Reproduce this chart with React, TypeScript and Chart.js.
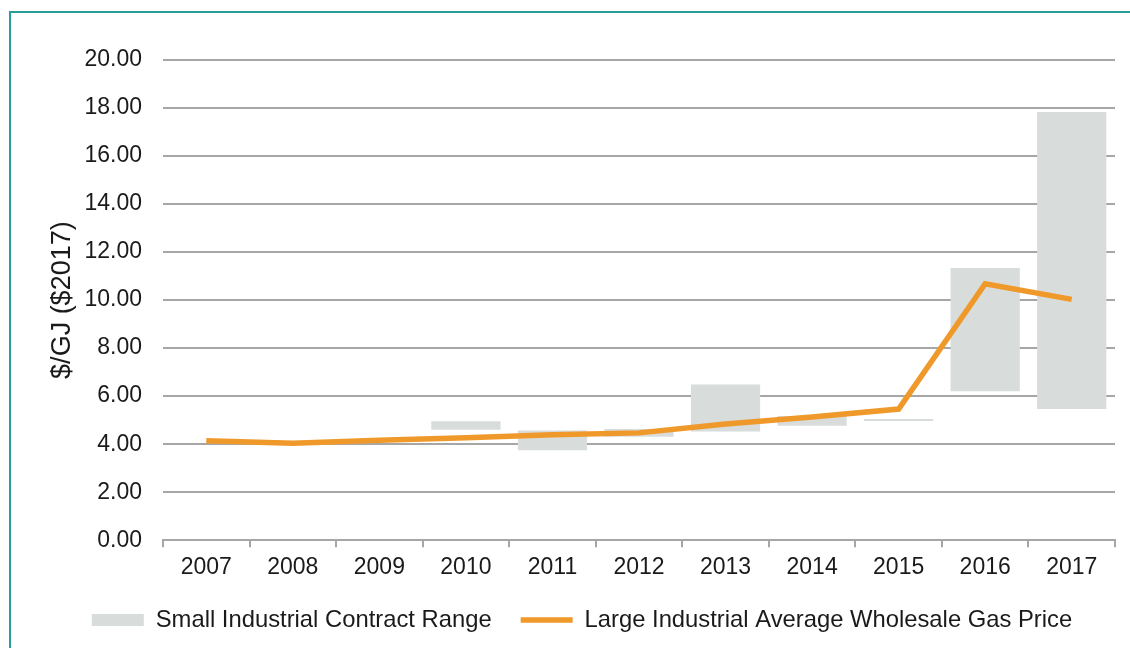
import React, { useEffect, useRef } from "react";
import { Chart, registerables } from "chart.js";

Chart.register(...registerables);

const years = ["2007", "2008", "2009", "2010", "2011", "2012", "2013", "2014", "2015", "2016", "2017"];
const contractLow: (number | null)[] = [null, null, null, 4.6, 3.75, 4.31, 4.53, 4.77, 4.96, 6.2, 5.46];
const contractHigh: (number | null)[] = [null, null, null, 4.95, 4.57, 4.63, 6.49, 5.17, 5.05, 11.34, 17.83];
const wholesalePrice = [4.14, 4.04, 4.16, 4.27, 4.39, 4.47, 4.84, 5.13, 5.46, 10.68, 10.03];
const yMin = 0;
const yMax = 20;
const yStep = 2;

const FONT = "'Liberation Sans', Arial, Helvetica, sans-serif";
const TEXT = "#1a1a1a";
const GRID = "#a6a6a6";

export default function App() {
  const ref = useRef<HTMLCanvasElement | null>(null);

  useEffect(() => {
    const ranges = contractLow.map((lo, i) =>
      lo === null || contractHigh[i] === null ? null : [lo, contractHigh[i] as number]
    );
    const chart = new Chart(ref.current as HTMLCanvasElement, {
      type: "bar",
      data: {
        labels: years,
        datasets: [
          {
            type: "bar",
            label: "Small Industrial Contract Range",
            data: ranges as any,
            backgroundColor: "#d8dcda",
            borderWidth: 0,
            barPercentage: 0.8,
            categoryPercentage: 1,
            pointStyle: "rect",
            order: 1,
          } as any,
          {
            type: "line",
            label: "Large Industrial Average Wholesale Gas Price",
            data: wholesalePrice,
            borderColor: "#f0992b",
            backgroundColor: "#f0992b",
            borderWidth: 5.5,
            pointRadius: 0,
            pointHoverRadius: 0,
            pointStyle: "line",
            tension: 0,
            order: 0,
          } as any,
        ],
      },
      options: {
        responsive: false,
        animation: false,
        devicePixelRatio: 1,
        layout: { padding: { left: 49, right: 15, top: 60, bottom: 6 } },
        plugins: {
          tooltip: { enabled: false },
          legend: {
            position: "bottom",
            labels: {
              usePointStyle: true,
              pointStyleWidth: 52,
              boxHeight: 12,
              padding: 29,
              color: TEXT,
              font: { family: FONT, size: 23.8 },
              sort: (a: any, b: any) => a.datasetIndex - b.datasetIndex,
            },
          },
        },
        scales: {
          x: {
            type: "category",
            offset: true,
            grid: {
              offset: true,
              drawOnChartArea: false,
              drawTicks: true,
              tickLength: 7,
              color: GRID,
              lineWidth: 2,
            },
            border: { display: true, color: GRID, width: 2 },
            ticks: {
              color: TEXT,
              font: { family: FONT, size: 23 },
              padding: 7,
              maxRotation: 0,
              autoSkip: false,
            },
            afterFit: (s: any) => {
              s.height = 39;
            },
          },
          y: {
            min: yMin,
            max: yMax,
            grid: { color: GRID, lineWidth: 2, drawTicks: false },
            border: { display: false },
            ticks: {
              stepSize: yStep,
              padding: 21,
              color: TEXT,
              font: { family: FONT, size: 23 },
              callback: (v: any) => Number(v).toFixed(2),
            },
            title: {
              display: true,
              text: "$/GJ ($2017)",
              color: TEXT,
              font: { family: FONT, size: 27 },
              padding: { top: -3, bottom: 0 },
            },
            afterFit: (s: any) => {
              s.width = 114;
            },
          },
        },
      },
    });
    return () => chart.destroy();
  }, []);

  return (
    <div
      style={{
        position: "fixed",
        left: 0,
        top: 0,
        width: 1130,
        height: 648,
        background: "#ffffff",
        overflow: "hidden",
      }}
    >
      <div
        style={{
          position: "absolute",
          left: 9,
          top: 11,
          width: 1300,
          height: 800,
          borderTop: "2px solid #2a9d98",
          borderLeft: "2px solid #2a9d98",
        }}
      />
      <canvas ref={ref} width={1130} height={648} style={{ position: "absolute", left: 0, top: 0 }} />
    </div>
  );
}
